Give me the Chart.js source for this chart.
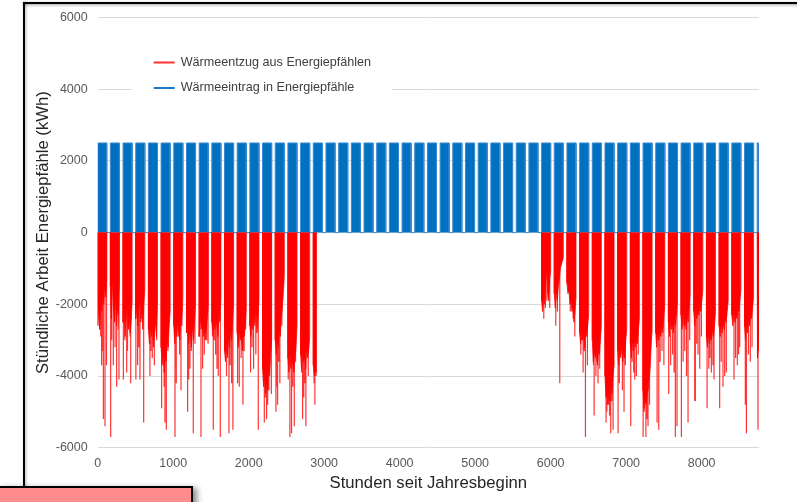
<!DOCTYPE html>
<html lang="de">
<head>
<meta charset="utf-8">
<title>Stündliche Arbeit Energiepfähle</title>
<script src="https://cdn.jsdelivr.net/npm/chart.js@4"></script>
<style>
  html, body { margin: 0; padding: 0; background: #fff; }
  #blatt { position: relative; width: 797px; height: 502px; overflow: hidden; background: #fff; }
  #diagramm { position: absolute; left: 0; top: 0; }
  .rand-oben { position: absolute; left: 23px; top: 2px; width: 790px; height: 2px; background: #000; box-shadow: 0 1px 3px rgba(0,0,0,0.45); }
  .rand-links { position: absolute; left: 23px; top: 2px; width: 2px; height: 486px; background: #000; box-shadow: 1px 0 3px rgba(0,0,0,0.35); }
  .notiz { position: absolute; left: -3px; top: 486px; width: 192px; height: 30px; background: #ff8c8c; border: 2px solid #000; box-shadow: 4px 2px 6px rgba(0,0,0,0.45); }
</style>
</head>
<body>
<div id="blatt">
  <canvas id="diagramm" width="797" height="502"></canvas>
  <div class="rand-oben"></div>
  <div class="rand-links"></div>
  <div class="notiz"></div>
</div>
<script>
// Achsenbeschriftung
const stundenTicks = [0, 1000, 2000, 3000, 4000, 5000, 6000, 7000, 8000];
const kwhTicks = [-6000, -4000, -2000, 0, 2000, 4000, 6000];

// Wärmeeintrag: Betriebsblöcke je Woche (Stunde Beginn / Ende) und Leistung in kWh
const eintragStart = [0, 168, 336, 504, 672, 840, 1008, 1176, 1344, 1512, 1680, 1848, 2016, 2184, 2352, 2520, 2688, 2856,
  3024, 3192, 3360, 3528, 3696, 3864, 4032, 4200, 4368, 4536, 4704, 4872, 5040, 5208, 5376, 5544, 5712,
  5880, 6048, 6216, 6384, 6552, 6720, 6888, 7056, 7224, 7392, 7560, 7728, 7896, 8064, 8232, 8400, 8568, 8736];
const eintragEnde = [120, 288, 456, 624, 792, 960, 1128, 1296, 1464, 1632, 1800, 1968, 2136, 2304, 2472, 2640, 2808, 2976,
  3144, 3312, 3480, 3648, 3816, 3984, 4152, 4320, 4488, 4656, 4824, 4992, 5160, 5328, 5496, 5664, 5832,
  6000, 6168, 6336, 6504, 6672, 6840, 7008, 7176, 7344, 7512, 7680, 7848, 8016, 8184, 8352, 8520, 8688, 8760];
const eintragWerte = [2500, 2500, 2500, 2500, 2500, 2500, 2500, 2500, 2500, 2500, 2500, 2500, 2500, 2500, 2500, 2500, 2500, 2500,
  2500, 2500, 2500, 2500, 2500, 2500, 2500, 2500, 2500, 2500, 2500, 2500, 2500, 2500, 2500, 2500, 2500,
  2500, 2500, 2500, 2500, 2500, 2500, 2500, 2500, 2500, 2500, 2500, 2500, 2500, 2500, 2500, 2500, 2500, 2500];

// Wärmeentzug: Heizwochen (Stunde Beginn / Ende) mit Grundlast-Verlauf in kWh
const entzugStart = [0, 168, 336, 504, 672, 840, 1008, 1176, 1344, 1512, 1680, 1848, 2016, 2184, 2352, 2520, 2688, 2856,
  5880, 6048, 6216, 6384, 6552, 6720, 6888, 7056, 7224, 7392, 7560, 7728, 7896, 8064, 8232, 8400, 8568, 8736];
const entzugEnde = [120, 288, 456, 624, 792, 960, 1128, 1296, 1464, 1632, 1800, 1968, 2136, 2304, 2472, 2640, 2808, 2897,
  6000, 6168, 6336, 6504, 6672, 6840, 7008, 7176, 7344, 7512, 7680, 7848, 8016, 8184, 8352, 8520, 8688, 8760];
const entzugGrundlast = [
  [-2600, -2100, -2700, -1900, -2200, -1700, -2000, -1500, -1800, -1300],
  [-1500, -2400, -1300, -2000, -2500, -1800, -2600, -2100, -2300, -1400],
  [-2500, -2200, -2900, -2400, -2000, -2700, -2300, -2800, -2500, -1900],
  [-2400, -2000, -2600, -2200, -1800, -2500, -2100, -2700, -2000, -1600],
  [-2700, -3100, -2500, -2900, -2600, -3200, -2800, -2500, -2900, -2000],
  [-3200, -3700, -3300, -3900, -3500, -3600, -3000, -3200, -2600, -2200],
  [-2600, -3100, -2400, -2900, -2500, -2800, -3000, -2400, -2600, -1800],
  [-2800, -2500, -3100, -2700, -2900, -3200, -2600, -3000, -2500, -2000],
  [-2900, -2300, -2700, -2500, -2900, -2600, -3000, -2700, -2400, -2000],
  [-2500, -2900, -2300, -2700, -2400, -2600, -2900, -2200, -2500, -1800],
  [-3300, -3600, -3000, -3400, -2900, -3200, -2700, -3000, -2500, -2000],
  [-2800, -3200, -2700, -3000, -2900, -3300, -2800, -2900, -2600, -2100],
  [-2600, -2900, -2400, -2700, -2300, -2600, -2200, -2800, -2400, -1900],
  [-3800, -4300, -3900, -4500, -4100, -4400, -3800, -4000, -3400, -3000],
  [-3000, -3400, -2900, -3200, -2700, -2900, -2400, -2100, -1700, -1200],
  [-3500, -3900, -3400, -3800, -3500, -3700, -3900, -3500, -3200, -2600],
  [-3400, -3800, -3300, -3600, -3400, -3800, -3200, -3500, -3300, -2900],
  [-3700, -4000, -3800, -3900],
  [-1900, -2200, -1800, -2000, -1400, -1000, -1700, -1900, -1300, -1100],
  [-1700, -2100, -1600, -1900, -1500, -1300, -1000, -900, -800, -700],
  [-1400, -1700, -1600, -2000, -1900, -2200, -2100, -2500, -2200, -1800],
  [-2800, -3100, -2700, -3000, -2800, -3200, -2700, -2900, -2600, -2300],
  [-3000, -3600, -3300, -3500, -3200, -3700, -3300, -3400, -3000, -2600],
  [-4000, -4600, -4300, -4800, -4400, -4700, -4200, -4500, -4000, -3700],
  [-3300, -3700, -3200, -3500, -3100, -3600, -3300, -3500, -3000, -2700],
  [-3100, -3500, -3000, -3300, -2900, -3200, -3000, -3100, -2700, -2400],
  [-4400, -4900, -4600, -4800, -4500, -4400, -4100, -3800, -3200, -2700],
  [-2800, -3200, -2700, -3000, -2800, -2900, -2600, -2800, -2400, -2000],
  [-2500, -2900, -2400, -2700, -2500, -2800, -2400, -2600, -2300, -1900],
  [-2300, -2700, -2200, -2600, -2400, -2700, -2300, -2500, -2100, -1700],
  [-2200, -2600, -2100, -2400, -2200, -2300, -2000, -2200, -1900, -1600],
  [-2900, -3200, -2800, -3100, -2900, -3000, -2700, -2900, -2600, -2200],
  [-2600, -2900, -2500, -2800, -2500, -2700, -2400, -2500, -2200, -1900],
  [-2300, -2600, -2200, -2500, -2300, -2400, -2100, -2200, -1900, -1600],
  [-2600, -3000, -2500, -2800, -2400, -2600, -2300, -2400, -2100, -1800],
  [-3100, -3500, -3200, -3300]
];

// Wärmeentzug: einzelne Spitzenstunden (Stunde / kWh)
const spitzenStunde = [
  8, 26, 40, 52, 64, 75, 97, 117,
  172, 185, 207, 230, 251, 273, 282,
  340, 360, 384, 395, 406, 428, 437,
  506, 529, 545, 560, 582, 609,
  692, 705, 723, 738, 750, 781,
  847, 869, 880, 891, 909, 930,
  1024, 1032, 1041, 1068, 1085, 1103,
  1191, 1205, 1222, 1240, 1266, 1288,
  1368, 1390, 1412, 1443, 1462,
  1531, 1545, 1562, 1580, 1597, 1624,
  1707, 1720, 1739, 1755, 1774, 1791,
  1853, 1875, 1900, 1924, 1940, 1960,
  2025, 2045, 2065, 2095, 2127,
  2207, 2220, 2237, 2252, 2268, 2300,
  2361, 2370, 2383, 2398, 2413, 2440,
  2524, 2546, 2568, 2585, 2604, 2621,
  2700, 2714, 2730, 2745, 2758, 2789,
  2866, 2877, 2892,
  5909, 5931, 5950, 5988,
  6068, 6090, 6121,
  6260, 6298, 6320,
  6399, 6415, 6430, 6445, 6461, 6487,
  6567, 6576, 6600, 6615, 6628, 6650,
  6734, 6745, 6760, 6780, 6796, 6810, 6827,
  6893, 6910, 6928, 6950, 6972, 6990,
  7061, 7080, 7100, 7114, 7136, 7160,
  7225, 7240, 7262, 7275, 7290, 7310,
  7410, 7432, 7450, 7475, 7500,
  7564, 7590, 7615, 7635, 7652, 7674,
  7732, 7755, 7776, 7800, 7820, 7842,
  7908, 7917, 7935, 7953, 7975, 7997,
  8072, 8095, 8110, 8129, 8150, 8164,
  8239, 8260, 8283, 8305, 8327,
  8429, 8450, 8473, 8490, 8504,
  8579, 8593, 8620, 8645, 8668,
  8747, 8758
];
const spitzenWert = [
  -2100, -2700, -2900, -3700, -3300, -5200, -5400, -3700,
  -5700, -3000, -3700, -3200, -4300, -2700, -4100,
  -4100, -3000, -3900, -3300, -2700, -2900, -4200,
  -4100, -3700, -3200, -4100, -2400, -5300,
  -4000, -3300, -3500, -3000, -3700, -3000,
  -4900, -3500, -4300, -5300, -5500, -3300,
  -5700, -3800, -4200, -2900, -3400, -4400,
  -5000, -4100, -3800, -3300, -5600, -3100,
  -5700, -3800, -3400, -3000, -3100,
  -5500, -3000, -3400, -3800, -4000, -5700,
  -4000, -3500, -5600, -3700, -4200, -5500,
  -4200, -4300, -3500, -4800, -3300, -2700,
  -3900, -3200, -3800, -3400, -5500,
  -5300, -4600, -5200, -4800, -4400, -4500,
  -5000, -4300, -4800, -3600, -4200, -2600,
  -4100, -5700, -5600, -4300, -5400, -3600,
  -3900, -5200, -4600, -4200, -5400, -4000,
  -4200, -4800, -4000,
  -2400, -2100, -1900, -2100,
  -2600, -2200, -4200,
  -2200, -2400, -2900,
  -3400, -3000, -3900, -3300, -5700, -3700,
  -3700, -5100, -4000, -3600, -4200, -3800,
  -5300, -5000, -4800, -5100, -5600, -4700, -5500,
  -5600, -4200, -3400, -4400, -5000, -3700,
  -5400, -3600, -3900, -4100, -4000, -3400,
  -5700, -5000, -5700, -5200, -5400, -4800,
  -5300, -5500, -3600, -3300, -3700,
  -4500, -3700, -3400, -3900, -5700, -5400,
  -5700, -3600, -3300, -4000, -5300, -3000,
  -4700, -4700, -3100, -3400, -3800, -2900,
  -4900, -3800, -3500, -3900, -3700, -4100,
  -4900, -3600, -4300, -4000, -3900,
  -4100, -3500, -3700, -3400, -3200,
  -4800, -5600, -3400, -3600, -3200,
  -5500, -3200
];

// Punktfolgen für die Liniendarstellung aufbauen
const eintragPunkte = [];
eintragStart.forEach((s, i) => {
  const e = eintragEnde[i];
  eintragPunkte.push({ x: s, y: 0 }, { x: s, y: eintragWerte[i] }, { x: e, y: eintragWerte[i] }, { x: e, y: 0 });
});

const grundlastPunkte = [];
entzugStart.forEach((s, i) => {
  const e = entzugEnde[i];
  const werte = entzugGrundlast[i];
  const schritt = (e - s) / (werte.length - 1);
  grundlastPunkte.push({ x: s, y: 0 });
  werte.forEach((v, j) => grundlastPunkte.push({ x: s + j * schritt, y: v }));
  grundlastPunkte.push({ x: e, y: 0 });
  grundlastPunkte.push({ x: e, y: null });
});

const spitzenPunkte = [];
spitzenStunde.forEach((h, i) => {
  spitzenPunkte.push({ x: h, y: 0 }, { x: h, y: spitzenWert[i] }, { x: h, y: null });
});

Chart.defaults.font.family = "'Liberation Sans', Arial, sans-serif";

// Legende innerhalb der Zeichenfläche, mit weißem Hintergrund
const legendeImDiagramm = {
  id: 'legendeImDiagramm',
  beforeDatasetsDraw(chart) {
    const { ctx, chartArea } = chart;
    ctx.save();
    ctx.fillStyle = '#ffffff';
    ctx.fillRect(chartArea.left + 34, chartArea.top + 28, 260, 62);
    ctx.font = "12.6px 'Liberation Sans', Arial, sans-serif";
    ctx.textBaseline = 'middle';
    ctx.textAlign = 'left';
    chart.data.datasets.filter(ds => ds.legendenFarbe).forEach((ds, i) => {
      const y = chartArea.top + 45 + i * 25.5;
      ctx.strokeStyle = ds.legendenFarbe;
      ctx.lineWidth = 2;
      ctx.beginPath();
      ctx.moveTo(chartArea.left + 56, y);
      ctx.lineTo(chartArea.left + 77, y);
      ctx.stroke();
      ctx.fillStyle = '#404040';
      ctx.fillText(ds.label, chartArea.left + 83, y);
    });
    ctx.restore();
  }
};

new Chart(document.getElementById('diagramm'), {
  type: 'line',
  data: {
    datasets: [
      {
        label: 'Wärmeentzug aus Energiepfählen',
        data: grundlastPunkte,
        legendenFarbe: '#ff3030',
        borderColor: 'rgba(255,0,0,0.8)',
        backgroundColor: '#ff0000',
        borderWidth: 1,
        fill: 'origin',
        spanGaps: false,
        pointRadius: 0,
        tension: 0
      },
      {
        label: 'Wärmeentzug aus Energiepfählen',
        data: spitzenPunkte,
        borderColor: 'rgba(255,0,0,0.8)',
        borderWidth: 1.2,
        fill: false,
        spanGaps: false,
        pointRadius: 0,
        tension: 0
      },
      {
        label: 'Wärmeeintrag in Energiepfähle',
        data: eintragPunkte,
        legendenFarbe: '#1f7ac8',
        borderColor: '#3a8ad0',
        backgroundColor: '#0070c0',
        borderWidth: 1,
        fill: 'origin',
        pointRadius: 0,
        tension: 0
      }
    ]
  },
  options: {
    responsive: false,
    animation: false,
    devicePixelRatio: 1,
    layout: { padding: { left: 0, top: 17, right: 38, bottom: 0 } },
    plugins: { legend: { display: false }, tooltip: { enabled: false } },
    scales: {
      x: {
        type: 'linear',
        min: 0,
        max: 8760,
        offset: false,
        grid: { display: false, drawTicks: false },
        border: { display: false },
        afterBuildTicks: s => { s.ticks = stundenTicks.map(v => ({ value: v })); },
        afterFit: s => { s.height = 54.3; },
        ticks: {
          padding: 8,
          color: '#595959',
          font: { size: 12.5 },
          maxRotation: 0,
          autoSkip: false,
          callback: v => String(v)
        },
        title: {
          display: true,
          text: 'Stunden seit Jahresbeginn',
          color: '#262626',
          font: { size: 16.7 },
          padding: { top: 0, bottom: 9 }
        }
      },
      y: {
        type: 'linear',
        min: -6000,
        max: 6000,
        grid: { color: '#d9d9d9', lineWidth: 1, drawTicks: false },
        border: { display: false },
        afterBuildTicks: s => { s.ticks = kwhTicks.map(v => ({ value: v })); },
        afterFit: s => { s.width = 97.7; },
        ticks: {
          padding: 10,
          color: '#595959',
          font: { size: 12.5 },
          callback: v => String(v)
        },
        title: {
          display: true,
          text: 'Stündliche Arbeit Energiepfähle (kWh)',
          color: '#262626',
          font: { size: 16.7 },
          padding: { top: 33, bottom: 0 }
        }
      }
    }
  },
  plugins: [legendeImDiagramm]
});
</script>
</body>
</html>
